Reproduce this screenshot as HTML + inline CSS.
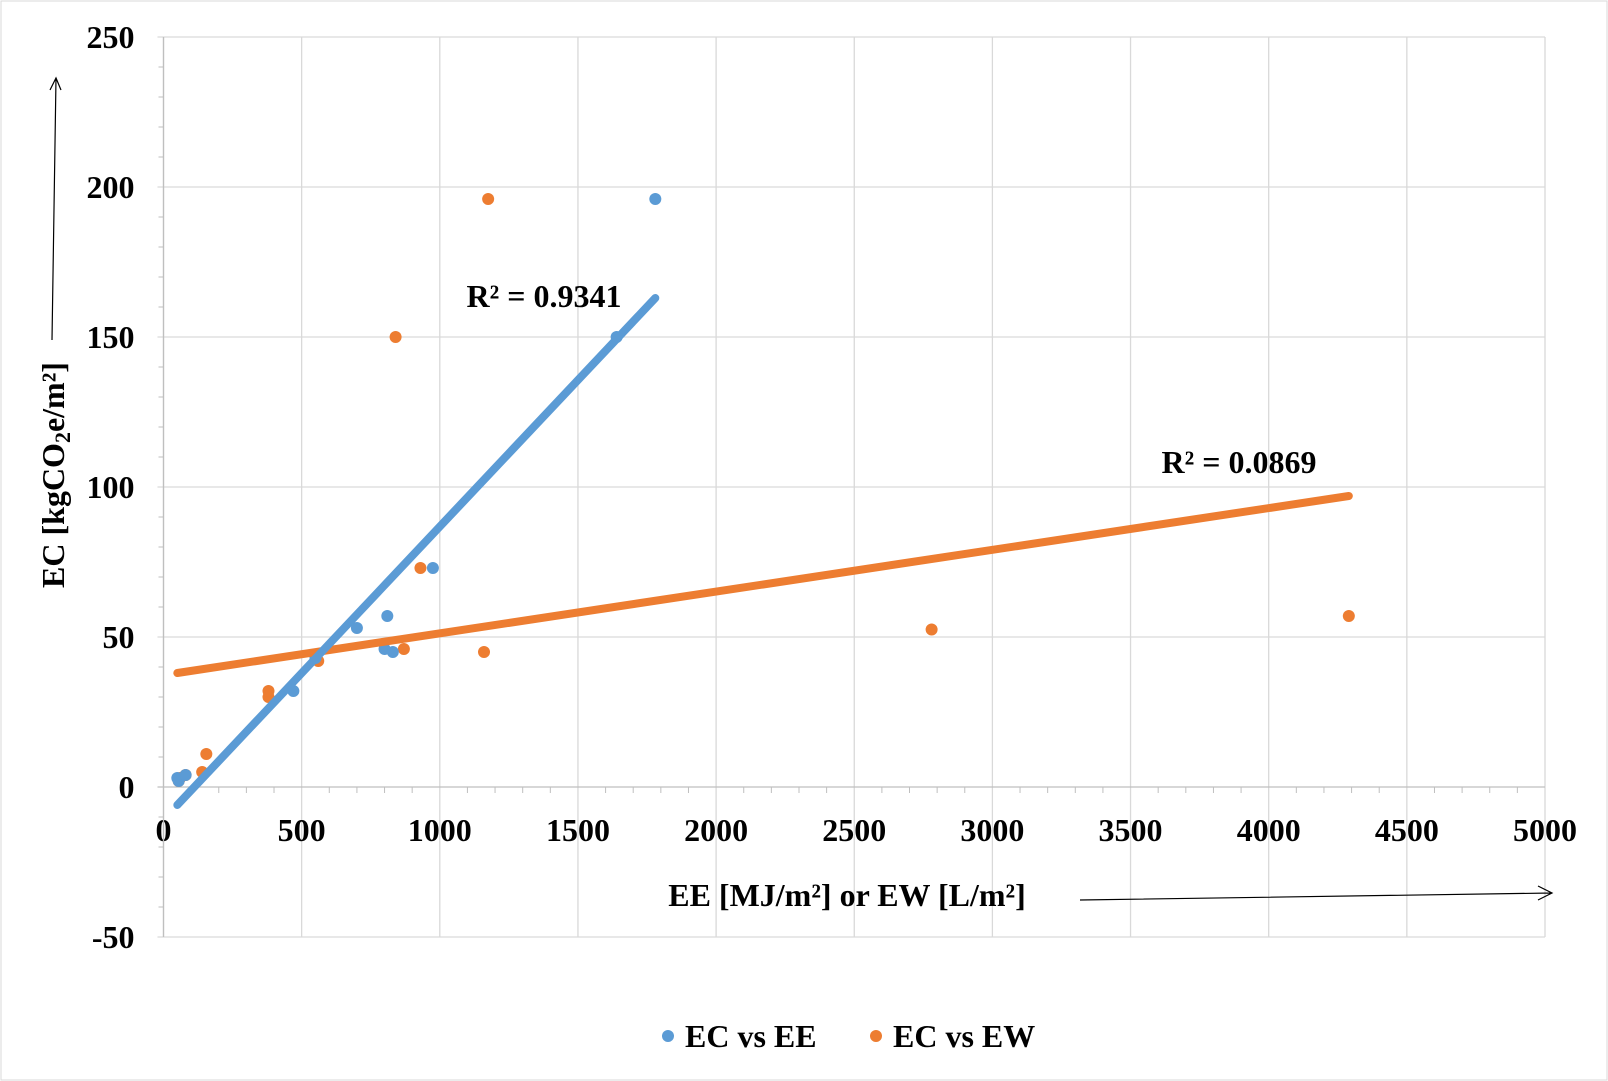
<!DOCTYPE html>
<html><head><meta charset="utf-8"><style>
body{margin:0;background:#fff}
svg{display:block;font-family:"Liberation Serif",serif;font-weight:bold}
</style></head><body>
<svg id="c" width="1608" height="1081">
<rect x="1" y="1" width="1606" height="1079" fill="#fff" stroke="#d9d9d9"/>
<g id="grid"></g><g id="marks"></g>
<text x="544" y="307" font-size="32" text-anchor="middle">R² = 0.9341</text>
<text x="1239" y="473" font-size="32" text-anchor="middle">R² = 0.0869</text>
<text x="847" y="906" font-size="32" text-anchor="middle">EE [MJ/m²] or EW [L/m²]</text>
<path d="M1080 900 L1552 893 M1538 886 L1552 893 L1538 900" fill="none" stroke="#000" stroke-width="1.2"/>
<text transform="translate(64,475) rotate(-90)" font-size="32" text-anchor="middle">EC [kgCO<tspan font-size="22" dy="6">2</tspan><tspan dy="-6">e/m²]</tspan></text>
<path d="M52 340 L56 78 M50 90 L56 78 L61 90" fill="none" stroke="#000" stroke-width="1.2"/>
<g>
<circle cx="668" cy="1036" r="6" fill="#5b9bd5"/>
<text x="685" y="1047" font-size="32">EC vs EE</text>
<circle cx="876" cy="1036" r="6" fill="#ed7d31"/>
<text x="893" y="1047" font-size="32">EC vs EW</text>
</g>
</svg>
<script>
const xTicks=[0,500,1000,1500,2000,2500,3000,3500,4000,4500,5000];
const yTicks=[-50,0,50,100,150,200,250];
const eeX=[50,55,80,470,550,700,800,810,830,975,1640,1780];
const eeY=[3,2,4,32,43,53,46,57,45,73,150,196];
const ewX=[55,60,80,140,155,380,380,560,840,870,930,1160,1175,2780,4290];
const ewY=[2,3,4,5,11,30,32,42,150,46,73,45,196,52.5,57];
const eeTrendX=[50,1780];const eeTrendY=[-6,163];
const ewTrendX=[50,4290];const ewTrendY=[38,97];
const X=v=>163.5+v*(1545-163.5)/5000;
const Y=v=>787-v*3;
const NS="http://www.w3.org/2000/svg";
const grid=document.getElementById('grid'),marks=document.getElementById('marks');
function mk(p,tag,a){const e=document.createElementNS(NS,tag);for(const k in a)e.setAttribute(k,a[k]);p.appendChild(e);return e;}
xTicks.forEach(t=>{
 const l=mk(grid,'line',{x1:X(t),x2:X(t),y1:Y(250),y2:Y(-50),stroke:'#d9d9d9','stroke-width':1.3});
 
 
 const tx=mk(grid,'text',{x:X(t),y:Y(0)+54,'font-size':32,'text-anchor':'middle'});tx.textContent=t;
 
 
});
for(let v=0;v<=5000;v+=100){if(v%500){const m=mk(grid,'line',{x1:X(v),x2:X(v),y1:Y(0),y2:Y(0)+6,stroke:'#bfbfbf'});
 
 }}
yTicks.forEach(t=>{
 const l=mk(grid,'line',{x1:X(0)-6,x2:X(5000),y1:Y(t),y2:Y(t),stroke:t===0?'#bfbfbf':'#d9d9d9','stroke-width':1.3});
 
 
 const tx=mk(grid,'text',{x:X(0)-29,y:Y(t)+11,'font-size':32,'text-anchor':'end'});tx.textContent=t;
 
 
});
for(let v=-50;v<=250;v+=10){if(v%50){const m=mk(grid,'line',{x1:X(0)-5,x2:X(0),y1:Y(v),y2:Y(v),stroke:'#bfbfbf'});
 
 }}
const ax=mk(grid,'line',{x1:X(0),x2:X(0),y1:Y(250),y2:Y(-50),stroke:'#bfbfbf','stroke-width':1.3});


function pts(xs,ys,col,name){xs.forEach((x,i)=>{const c=mk(marks,'circle',{cx:X(x),cy:Y(ys[i]),r:6,fill:col});
 
 });}
function trend(xs,ys,col,name){const l=mk(marks,'line',{x1:X(xs[0]),y1:Y(ys[0]),x2:X(xs[1]),y2:Y(ys[1]),stroke:col,'stroke-width':8,'stroke-linecap':'round'});
 
 }
pts(ewX,ewY,'#ed7d31','point-ec-vs-ew');
pts(eeX,eeY,'#5b9bd5','point-ec-vs-ee');
trend(ewTrendX,ewTrendY,'#ed7d31','trendline-ew');
trend(eeTrendX,eeTrendY,'#5b9bd5','trendline-ee');
</script>
</body></html>
